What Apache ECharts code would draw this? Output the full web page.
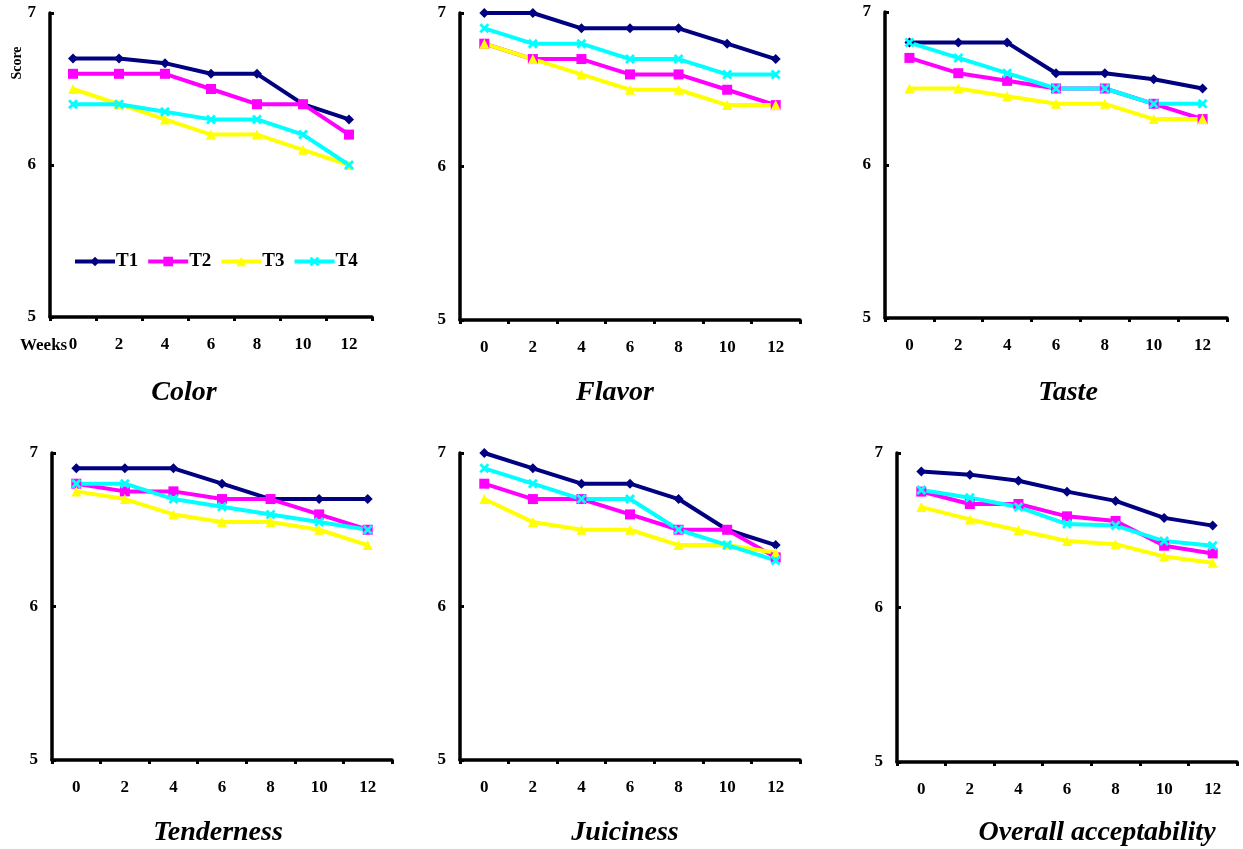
<!DOCTYPE html>
<html>
<head>
<meta charset="utf-8">
<script src="https://cdn.jsdelivr.net/npm/echarts@6/dist/echarts.min.js"></script>
<style>
  html, body { margin: 0; padding: 0; background: #fff; }
  #chart { width: 1243px; height: 849px; }
</style>
</head>
<body>
<div id="chart"></div>
<script>
const weeks = ['0', '2', '4', '6', '8', '10', '12'];
const treatments = ['T1', 'T2', 'T3', 'T4'];
const yTicks = [5, 6, 7];

const panelNames = ['Color', 'Flavor', 'Taste', 'Tenderness', 'Juiciness', 'Overall acceptability'];

const colorT1 = [6.7, 6.7, 6.67, 6.6, 6.6, 6.4, 6.3];
const colorT2 = [6.6, 6.6, 6.6, 6.5, 6.4, 6.4, 6.2];
const colorT3 = [6.5, 6.4, 6.3, 6.2, 6.2, 6.1, 6.0];
const colorT4 = [6.4, 6.4, 6.35, 6.3, 6.3, 6.2, 6.0];

const flavorT1 = [7.0, 7.0, 6.9, 6.9, 6.9, 6.8, 6.7];
const flavorT2 = [6.8, 6.7, 6.7, 6.6, 6.6, 6.5, 6.4];
const flavorT3 = [6.8, 6.7, 6.6, 6.5, 6.5, 6.4, 6.4];
const flavorT4 = [6.9, 6.8, 6.8, 6.7, 6.7, 6.6, 6.6];

const tasteT1 = [6.8, 6.8, 6.8, 6.6, 6.6, 6.56, 6.5];
const tasteT2 = [6.7, 6.6, 6.55, 6.5, 6.5, 6.4, 6.3];
const tasteT3 = [6.5, 6.5, 6.45, 6.4, 6.4, 6.3, 6.3];
const tasteT4 = [6.8, 6.7, 6.6, 6.5, 6.5, 6.4, 6.4];

const tenderT1 = [6.9, 6.9, 6.9, 6.8, 6.7, 6.7, 6.7];
const tenderT2 = [6.8, 6.75, 6.75, 6.7, 6.7, 6.6, 6.5];
const tenderT3 = [6.75, 6.7, 6.6, 6.55, 6.55, 6.5, 6.4];
const tenderT4 = [6.8, 6.8, 6.7, 6.65, 6.6, 6.55, 6.5];

const juicyT1 = [7.0, 6.9, 6.8, 6.8, 6.7, 6.5, 6.4];
const juicyT2 = [6.8, 6.7, 6.7, 6.6, 6.5, 6.5, 6.32];
const juicyT3 = [6.7, 6.55, 6.5, 6.5, 6.4, 6.4, 6.35];
const juicyT4 = [6.9, 6.8, 6.7, 6.7, 6.5, 6.4, 6.3];

const overallT1 = [6.88, 6.86, 6.82, 6.75, 6.69, 6.58, 6.53];
const overallT2 = [6.75, 6.67, 6.67, 6.59, 6.56, 6.4, 6.35];
const overallT3 = [6.65, 6.57, 6.5, 6.43, 6.41, 6.33, 6.29];
const overallT4 = [6.76, 6.71, 6.65, 6.54, 6.53, 6.43, 6.4];

const panelData = [
    [colorT1, colorT2, colorT3, colorT4],
    [flavorT1, flavorT2, flavorT3, flavorT4],
    [tasteT1, tasteT2, tasteT3, tasteT4],
    [tenderT1, tenderT2, tenderT3, tenderT4],
    [juicyT1, juicyT2, juicyT3, juicyT4],
    [overallT1, overallT2, overallT3, overallT4],
];

const COLORS = ['#000080', '#FF00FF', '#FFFF00', '#00FFFF'];
const CROSS = 'path://M0,2 L2,0 L5,3 L8,0 L10,2 L7,5 L10,8 L8,10 L5,7 L2,10 L0,8 L3,5 Z';
const SYMBOLS = ['diamond', 'rect', 'triangle', CROSS];
const SERIF = '"Liberation Serif", "DejaVu Serif", serif';

// plot boxes [left, top, width, height] and title centres
const grids = [
    [50, 13, 322, 304],
    [460, 13, 340, 307],
    [885, 12, 342, 306],
    [52, 453, 340, 307],
    [460, 453, 340, 307],
    [897, 453, 340, 309],
];
const titlePos = [[184, 393], [615, 393], [1068, 393], [218, 833], [625, 833], [1097, 833]];

const option = {
    animation: false,
    backgroundColor: '#fff',
    grid: grids.map(g => ({ left: g[0], top: g[1], width: g[2], height: g[3] })),
    xAxis: grids.map((g, i) => ({
        type: 'category',
        gridIndex: i,
        data: weeks,
        boundaryGap: true,
        axisLine: { lineStyle: { color: '#000', width: 3.5 } },
        axisTick: { show: true, length: 4, lineStyle: { color: '#000', width: 3 } },
        axisLabel: { color: '#000', fontFamily: SERIF, fontWeight: 'bold', fontSize: 17, margin: 19 },
        splitLine: { show: false },
    })),
    yAxis: grids.map((g, i) => ({
        type: 'value',
        gridIndex: i,
        min: yTicks[0],
        max: yTicks[yTicks.length - 1],
        interval: 1,
        axisLine: { show: true, lineStyle: { color: '#000', width: 3.5 } },
        axisTick: { show: true, inside: true, length: 4, lineStyle: { color: '#000', width: 3 } },
        axisLabel: { color: '#000', fontFamily: SERIF, fontWeight: 'bold', fontSize: 17, margin: 14 },
        splitLine: { show: false },
    })),
    legend: {
        data: treatments,
        left: 68,
        top: 247,
        itemWidth: 40,
        itemHeight: 12,
        itemGap: 8,
        lineStyle: { width: 4 },
        textStyle: { color: '#000', fontFamily: SERIF, fontWeight: 'bold', fontSize: 19, padding: [0, 0, 0, -4] },
    },
    series: [],
    graphic: [
        {
            type: 'text', x: 17, y: 63, rotation: Math.PI / 2,
            style: { text: 'Score', fill: '#000', font: 'bold 14px ' + SERIF, align: 'center', verticalAlign: 'middle' },
        },
        {
            type: 'text', x: 20, y: 346,
            style: { text: 'Weeks', fill: '#000', font: 'bold 17px ' + SERIF, align: 'left', verticalAlign: 'middle' },
        },
    ],
};

panelData.forEach((set, p) => {
    set.forEach((vals, t) => {
        option.series.push({
            name: treatments[t],
            type: 'line',
            xAxisIndex: p,
            yAxisIndex: p,
            data: vals,
            symbol: SYMBOLS[t],
            symbolSize: 10,
            showAllSymbol: true,
            itemStyle: { color: COLORS[t] },
            lineStyle: { color: COLORS[t], width: 4 },
        });
    });
});

titlePos.forEach((pos, i) => {
    option.graphic.push({
        type: 'text', x: pos[0], y: pos[1],
        style: {
            text: panelNames[i], fill: '#000',
            font: 'italic bold 28px ' + SERIF,
            align: 'center', verticalAlign: 'middle',
        },
    });
});

const chart = echarts.init(document.getElementById('chart'));
chart.setOption(option);
</script>
</body>
</html>
